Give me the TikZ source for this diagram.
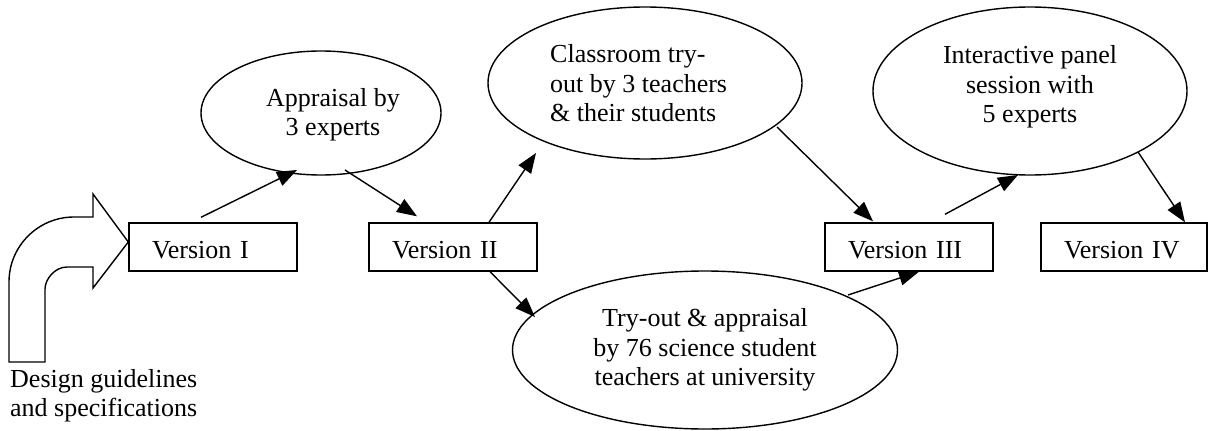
\documentclass[tikz,border=0pt]{standalone}
\usepackage{fontspec}
\setmainfont{Liberation Serif}
\newfontfamily\tnr{Liberation Serif}
\usetikzlibrary{arrows.meta,shapes.geometric}
\begin{document}
\begin{tikzpicture}[x=1pt,y=-1pt,
  every node/.style={font=\tnr\fontsize{26}{29.5}\selectfont},
  verbox/.style={draw,line width=1.4pt,rectangle,inner ysep=0pt,inner xsep=23pt,
     text width=122pt,align=left,text height=35pt,text depth=13pt},
  oval/.style={draw,line width=1.4pt,ellipse,inner sep=0pt},
  txt/.style={inner sep=0pt},
  arr/.style={line width=1.4pt,-{Triangle[length=20pt,width=15pt]}}]
\useasboundingbox (0,0) rectangle (1208,431);
% boxes
\node[verbox] (v1) at (213,247) {Version I};
\node[verbox] (v2) at (453,247) {Version II};
\node[verbox] (v3) at (909,247) {Version III};
\node[verbox,minimum width=166pt,text width=120pt] (v4) at (1124,247) {Version IV};
% ellipses
\node[oval,minimum width=240pt,minimum height=124pt] (app) at (321,113) {};
\node[oval,minimum width=314pt,minimum height=152pt] (cls) at (645,83) {};
\node[oval,minimum width=314pt,minimum height=168pt] (int) at (1030,91) {};
\node[oval,minimum width=385pt,minimum height=158pt] (try) at (705,350) {};
% texts
\node[txt,align=center] (tapp) at (333,114.5) {Appraisal by\\3 experts};
\node[txt,align=left,anchor=west] (tcls) at (550,83.5) {Classroom try-\\out by 3 teachers\\\&\ their students};
\node[txt,align=center] (tint) at (1030,87) {Interactive panel\\session with\\5 experts};
\node[txt,align=center] (ttry) at (705,350) {Try-out \& appraisal\\by 76 science student\\teachers at university};
\node[txt,align=left,anchor=west] (tdes) at (10,395.5) {Design guidelines\\and specifications};
% big curved arrow
\draw[line width=1.4pt,line join=miter] (9,362) -- (9,282)
  .. controls (9,246.1) and (38.1,217) .. (74,217) -- (93,217) -- (93,194)
  -- (v1.west |- 0,242) -- (93,288) -- (93,267) -- (67,267)
  .. controls (54.8,267) and (45,279.2) .. (45,289) -- (45,362) -- cycle;
% connectors
\draw[arr] ([shift={(-12,-5)}]v1.north) -- ([shift={(-24,57)}]app.center);
\draw[arr] ([shift={(24,57)}]app.center) -- ([shift={(-36,-6)}]v2.north);
\draw[arr] ([shift={(36,0)}]v2.north) -- ([shift={(-109,70)}]cls.center);
\draw[arr] ([shift={(37,0)}]v2.south) -- ([shift={(-170,-33)}]try.center);
\draw[arr] ([shift={(132,44)}]cls.center) -- ([shift={(-36,-1)}]v3.north);
\draw[arr] ([shift={(143,-55)}]try.center) -- ([shift={(10,0)}]v3.south);
\draw[arr] ([shift={(36,-8)}]v3.north) -- ([shift={(-12,84)}]int.center);
\draw[arr] ([shift={(108,61)}]int.center) -- ([shift={(61,0)}]v4.north);
\end{tikzpicture}
\end{document}
